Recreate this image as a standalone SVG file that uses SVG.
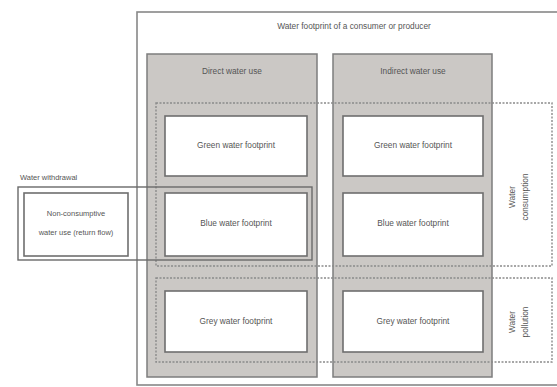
<svg xmlns="http://www.w3.org/2000/svg" width="557" height="387" viewBox="0 0 557 387">
<style>
text{font-family:"Liberation Sans",Arial,sans-serif;font-size:8.3px;fill:#555;text-anchor:middle}
.outer{fill:#fff;stroke:#888;stroke-width:1.6}
.col{fill:#cbc8c5;stroke:#7d7d7d;stroke-width:1.5}
.box{fill:#fff;stroke:#6e6e6e;stroke-width:1.6}
.dash{fill:none;stroke:#8a8a8a;stroke-width:1.4;stroke-dasharray:2 1.5}
.wd{fill:none;stroke:#6a6a6a;stroke-width:1.4}
</style>
<rect width="557" height="387" fill="#fff"/>
<g id="outer">
<rect class="outer" x="137" y="12" width="430" height="373"/>
<text x="354" y="29">Water footprint of a consumer or producer</text>
</g>
<g id="direct">
<rect class="col" x="147" y="54" width="170" height="323"/>
<text x="232" y="74">Direct water use</text>
</g>
<g id="indirect">
<rect class="col" x="333" y="54" width="159" height="323"/>
<text x="413" y="74">Indirect water use</text>
</g>
<g id="consumption">
<rect class="dash" x="156" y="103" width="396" height="163"/>
<text transform="translate(515 197) rotate(-90)">Water</text>
<text transform="translate(528 197) rotate(-90)">consumption</text>
</g>
<g id="pollution">
<rect class="dash" x="156" y="278" width="396" height="84"/>
<text transform="translate(515 322) rotate(-90)">Water</text>
<text transform="translate(528 322) rotate(-90)">pollution</text>
</g>
<g id="green-direct">
<rect class="box" x="165" y="116" width="142" height="60"/>
<text x="236" y="148">Green water footprint</text>
</g>
<g id="green-indirect">
<rect class="box" x="343" y="116" width="140" height="60"/>
<text x="413" y="148">Green water footprint</text>
</g>
<g id="blue-direct">
<rect class="box" x="165" y="193" width="142" height="63"/>
<text x="236" y="226">Blue water footprint</text>
</g>
<g id="blue-indirect">
<rect class="box" x="343" y="193" width="140" height="63"/>
<text x="413" y="226">Blue water footprint</text>
</g>
<g id="grey-direct">
<rect class="box" x="165" y="291" width="142" height="61"/>
<text x="236" y="324">Grey water footprint</text>
</g>
<g id="grey-indirect">
<rect class="box" x="343" y="291" width="140" height="61"/>
<text x="413" y="324">Grey water footprint</text>
</g>
<g id="withdrawal">
<rect class="wd" x="18" y="187" width="294" height="73"/>
<text x="20" y="180" style="text-anchor:start;font-size:7.5px">Water withdrawal</text>
</g>
<g id="non-consumptive">
<rect class="box" x="24" y="193" width="104" height="63"/>
<text x="76" y="216" style="font-size:7.5px">Non-consumptive</text>
<text x="76" y="235" style="font-size:7.5px">water use (return flow)</text>
</g>
<g id="connectors"></g>
</svg>
